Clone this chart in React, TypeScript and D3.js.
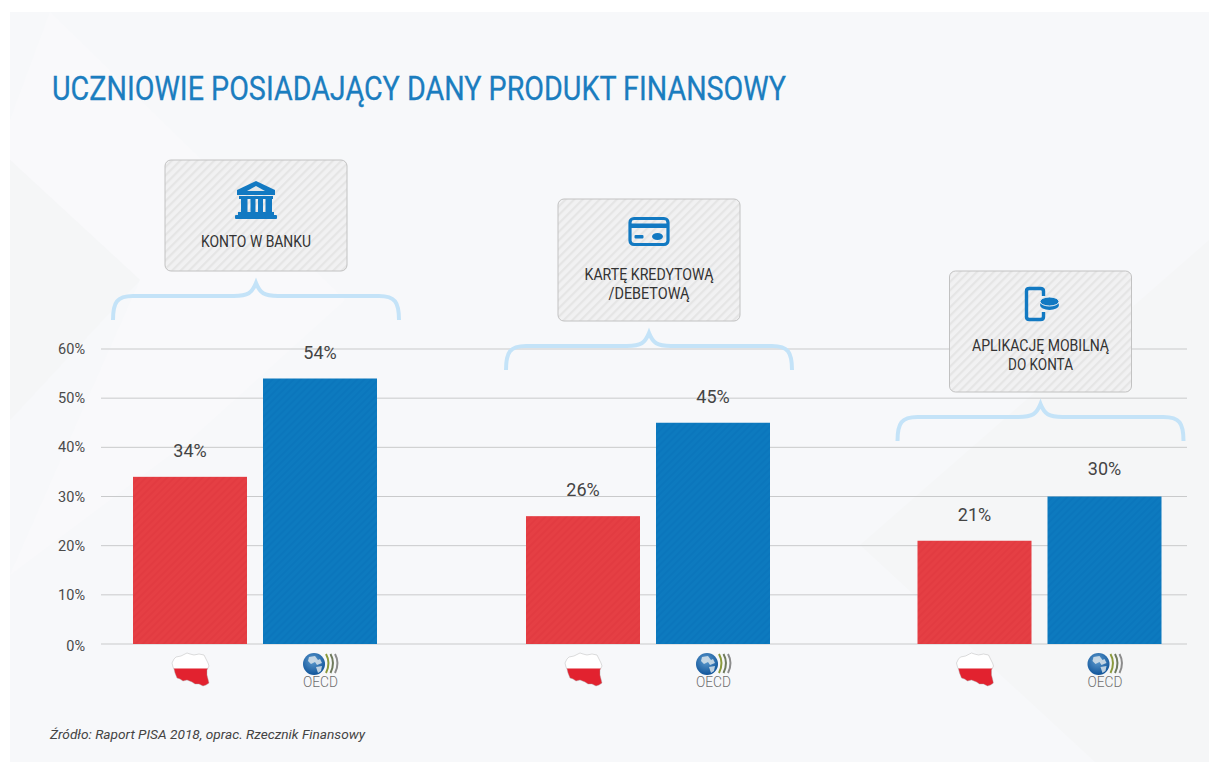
import React from "react";
import * as d3 from "d3";

// Values read per financial product, in percent of students
const categories = ["KONTO W BANKU", "KARTĘ KREDYTOWĄ /DEBETOWĄ", "APLIKACJĘ MOBILNĄ DO KONTA"];
const polandValues = [34, 26, 21];
const oecdValues = [54, 45, 30];
const yTicks = [0, 10, 20, 30, 40, 50, 60];
const cardLines = [["KONTO W BANKU"], ["KARTĘ KREDYTOWĄ", "/DEBETOWĄ"], ["APLIKACJĘ MOBILNĄ", "DO KONTA"]];
const cardLineWidths = [[110], [129, 81], [137, 65]];
const titleText = "UCZNIOWIE POSIADAJĄCY DANY PRODUKT FINANSOWY";
const sourceText = "Źródło: Raport PISA 2018, oprac. Rzecznik Finansowy";

const WIDTH = 1209;
const HEIGHT = 762;
const BLUE = "#0d7abf";
const RED = "#e53f44";
const ICON = "#1279c2";
const FONT = "Roboto, sans-serif";

const y = d3.scaleLinear().domain([0, 60]).range([644, 349]);
const group = d3.scaleOrdinal<number, number>().domain([0, 1, 2]).range([255, 648, 1039.5]);
const BAR_W = 114;
const BAR_GAP = 16;

// Card and brace geometry per group
const cardTops = [160, 199, 271];
const cardHeights = [111, 122, 121];
const bracePeaks = [283, 333, 404];
const iconOffsets = [40, 33, 33];
const textOffsets = [87, 81, 80];
const polandLabelLift = [20, 20, 20];
const oecdLabelLift = [20, 20, 22];

const polandOutline =
  "M0 10 L2 6 L4 4 L9 3 L13 1 L15 0 L18 1 L22 2 L27 1 L32 2 L34 6 L36 10 L37 13 L35 17 L35 22 L36 26 L37 30 L34 32 L31 33 L27 31 L23 31 L20 29 L15 27 L11 28 L8 26 L5 25 L3 20 L2 16 L1 14 Z";

function Brace({ cx, peak }: { cx: number; peak: number }) {
  const h = 143;
  const flat = peak + 13;
  const end = peak + 37;
  const d = `M${cx - h} ${end} C${cx - h} ${flat + 6} ${cx - h + 4} ${flat} ${cx - h + 20} ${flat}
    L${cx - 22} ${flat} C${cx - 8} ${flat} ${cx - 4} ${flat - 3} ${cx} ${peak}
    C${cx + 4} ${flat - 3} ${cx + 8} ${flat} ${cx + 22} ${flat}
    L${cx + h - 20} ${flat} C${cx + h - 4} ${flat} ${cx + h} ${flat + 6} ${cx + h} ${end}`;
  return <path d={d} fill="none" stroke="#c4e3f8" strokeWidth={4} />;
}

function BankIcon({ cx, cy }: { cx: number; cy: number }) {
  return (
    <g transform={`translate(${cx - 21},${cy - 19})`} fill={ICON}>
      <path d="M21 0 L40 9 L40 14 L2 14 L2 9 Z" />
      <path d="M21 5 L30 10 L12 10 Z" fill="#e4e8ea" />
      <rect x={4} y={15} width={34} height={3} />
      <rect x={6} y={17} width={6.5} height={15} />
      <rect x={15.5} y={17} width={5} height={15} />
      <rect x={23} y={17} width={5} height={15} />
      <rect x={30.5} y={17} width={6.5} height={15} />
      <rect x={3} y={31} width={36} height={3.5} />
      <rect x={0} y={34} width={42} height={4} rx={1} />
    </g>
  );
}

function CardIcon({ cx, cy }: { cx: number; cy: number }) {
  return (
    <g transform={`translate(${cx - 20.5},${cy - 15})`}>
      <rect x={1.5} y={1.5} width={38} height={26} rx={4} fill="none" stroke={ICON} strokeWidth={3.2} />
      <rect x={1.5} y={6.5} width={38} height={4.5} fill={ICON} />
      <rect x={6} y={18} width={9} height={3.4} rx={1} fill={ICON} />
      <ellipse cx={29} cy={19.5} rx={5.5} ry={3.5} fill={ICON} />
    </g>
  );
}

function PhoneIcon({ cx, cy }: { cx: number; cy: number }) {
  return (
    <g transform={`translate(${cx - 16},${cy - 17})`}>
      <path d="M19 9 L19 4 Q19 1.5 16 1.5 L5 1.5 Q2 1.5 2 4 L2 30 Q2 32.5 5 32.5 L16 32.5 Q19 32.5 19 30 L19 25"
        fill="none" stroke={ICON} strokeWidth={3.4} />
      <ellipse cx={25} cy={18} rx={9.5} ry={5} fill={ICON} />
      <ellipse cx={25} cy={14.5} rx={9.5} ry={4.5} fill={ICON} stroke="#eef0f2" strokeWidth={1} />
    </g>
  );
}

function PolandMark({ cx, id }: { cx: number; id: string }) {
  return (
    <g transform={`translate(${cx - 18},653)`}>
      <clipPath id={id}><path d={polandOutline} /></clipPath>
      <g clipPath={`url(#${id})`}>
        <rect x={0} y={0} width={40} height={15.5} fill="#ffffff" />
        <rect x={0} y={15.5} width={40} height={20} fill="#e2222f" />
      </g>
      <path d={polandOutline} fill="none" stroke="#a8a8a8" strokeWidth={0.4} />
    </g>
  );
}

function OecdMark({ cx, id }: { cx: number; id: string }) {
  return (
    <g transform={`translate(${cx},672)`}>
      <radialGradient id={id} cx="0.45" cy="0.35" r="0.7">
        <stop offset="0" stopColor="#5f9ccf" />
        <stop offset="1" stopColor="#0a4f96" />
      </radialGradient>
      <circle cx={-6} cy={-8} r={11} fill={`url(#${id})`} />
      <path d="M-11 -15 L-5 -16 L-2 -12 L0 -13 L2 -9 L-3 -7 L-5 -10 L-9 -8 L-12 -11 Z M-4 -5 L2 -6 L1 -1 L-2 1 Z" fill="#d8e3ea" opacity={0.85} />
      <path d="M6 -18 Q11 -9 6 1" fill="none" stroke="#8b9a3c" strokeWidth={2} />
      <path d="M10.5 -18 Q15.5 -9 10.5 1" fill="none" stroke="#6f7a5c" strokeWidth={2} />
      <path d="M15 -18 Q20 -9 15 1" fill="none" stroke="#8c8c8c" strokeWidth={2} />
      <text x={0.5} y={14.5} textAnchor="middle" fontFamily={FONT} fontSize={14} fontWeight={300} fill="#6e6e6e"
        textLength={35} lengthAdjust="spacingAndGlyphs">OECD</text>
    </g>
  );
}

export default function App() {
  const icons = [BankIcon, CardIcon, PhoneIcon];
  return (
    <svg width={WIDTH} height={HEIGHT} style={{ position: "absolute", left: 0, top: 0, background: "#ffffff" }}>
      <defs>
        <pattern id="cardHatch" width="6" height="6" patternUnits="userSpaceOnUse" patternTransform="rotate(-45)">
          <rect width="6" height="6" fill="#f1f1f2" />
          <rect width="6" height="2.2" fill="#e5e5e5" />
        </pattern>
        <pattern id="redHatch" width="5" height="5" patternUnits="userSpaceOnUse" patternTransform="rotate(-45)">
          <rect width="5" height="5" fill={RED} />
          <rect width="5" height="2" fill="#e23b41" />
        </pattern>
        <pattern id="blueHatch" width="5" height="5" patternUnits="userSpaceOnUse" patternTransform="rotate(-45)">
          <rect width="5" height="5" fill={BLUE} />
          <rect width="5" height="2" fill="#0b76bc" />
        </pattern>
      </defs>

      {/* Panel with faint geometric shapes */}
      <rect x={10} y={12} width={1199} height={750} fill="#f7f8fa" />
      <path d="M50 12 L345 300 L190 440 L10 575 L140 280 L10 160 L10 120 Z" fill="#f9f9fb" />
      <path d="M10 160 L140 280 L10 420 Z" fill="#f5f6f7" />
      <path d="M860 545 L1209 240 L1209 762 L1095 762 Z" fill="#f5f6f7" />

      <text x={52} y={100} fontFamily={FONT} fontSize={33} fontWeight={400} fill="#1b7dbf" stroke="#1b7dbf" strokeWidth={0.3} textLength={734} lengthAdjust="spacingAndGlyphs">
        {titleText}
      </text>

      {/* Horizontal grid and axis labels */}
      {yTicks.map((t) => (
        <g key={t}>
          <line x1={101} x2={1187} y1={y(t)} y2={y(t)} stroke="#c9cacb" strokeWidth={1} />
          <text x={85} y={y(t) + (t === 0 ? 7 : 5)} textAnchor="end" fontFamily={FONT} fontSize={14.5} fill="#4a4a4a">{t}%</text>
        </g>
      ))}

      {categories.map((c, i) => {
        const cx = group(i);
        const top = cardTops[i];
        const Icon = icons[i];
        const px = cx - BAR_GAP / 2 - BAR_W;
        const ox = cx + BAR_GAP / 2;
        return (
          <g key={c}>
            <rect x={cx - 90} y={top} width={182} height={cardHeights[i]} rx={6} fill="url(#cardHatch)" stroke="#c2c2c2" strokeWidth={1} />
            <Icon cx={cx + 1} cy={top + iconOffsets[i]} />
            {cardLines[i].map((l, k) => (
              <text key={l} x={cx + 1} y={top + textOffsets[i] + k * 19} textAnchor="middle" fontFamily={FONT} fontSize={16} fill="#333"
                textLength={cardLineWidths[i][k]} lengthAdjust="spacingAndGlyphs">{l}</text>
            ))}
            <Brace cx={cx + 1} peak={bracePeaks[i]} />

            <rect x={px} y={y(polandValues[i])} width={BAR_W} height={y(0) - y(polandValues[i])} fill="url(#redHatch)" />
            <rect x={ox} y={y(oecdValues[i])} width={BAR_W} height={y(0) - y(oecdValues[i])} fill="url(#blueHatch)" />
            <text x={px + BAR_W / 2} y={y(polandValues[i]) - polandLabelLift[i]} textAnchor="middle" fontFamily={FONT} fontSize={18} fill="#444">{polandValues[i]}%</text>
            <text x={ox + BAR_W / 2} y={y(oecdValues[i]) - oecdLabelLift[i]} textAnchor="middle" fontFamily={FONT} fontSize={18} fill="#444">{oecdValues[i]}%</text>

            <PolandMark cx={px + BAR_W / 2} id={`pl${i}`} />
            <OecdMark cx={ox + BAR_W / 2} id={`oecd${i}`} />
          </g>
        );
      })}

      <text x={50} y={739} fontFamily={FONT} fontSize={13} fontStyle="italic" fill="#444" textLength={315} lengthAdjust="spacingAndGlyphs">
        {sourceText}
      </text>
    </svg>
  );
}
